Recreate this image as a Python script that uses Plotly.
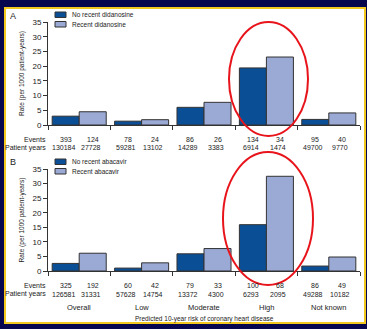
import plotly.graph_objects as go

# Risk groups (predicted 10-year risk of coronary heart disease)
categories = ["Overall", "Low", "Moderate", "High", "Not known"]

# Panel A: didanosine
rate_no_ddi = [3.0, 1.3, 6.0, 19.4, 1.9]
rate_ddi = [4.5, 1.8, 7.7, 23.1, 4.1]
events_no_ddi = ["393", "78", "86", "134", "95"]
events_ddi = ["124", "24", "26", "34", "40"]
py_no_ddi = ["130184", "59281", "14289", "6914", "49700"]
py_ddi = ["27728", "13102", "3383", "1474", "9770"]

# Panel B: abacavir
rate_no_abc = [2.6, 1.0, 5.9, 15.9, 1.7]
rate_abc = [6.1, 2.8, 7.7, 32.5, 4.8]
events_no_abc = ["325", "60", "79", "100", "86"]
events_abc = ["192", "42", "33", "68", "49"]
py_no_abc = ["126581", "57628", "13372", "6293", "49288"]
py_abc = ["31331", "14754", "4300", "2095", "10182"]

series_names_a = ["No recent didanosine", "Recent didanosine"]
series_names_b = ["No recent abacavir", "Recent abacavir"]

DARK = "#0a4f96"
LIGHT = "#9ba9d5"
EDGE = "#333333"
TEXT = "#222222"
FONT = "Liberation Sans, Arial, sans-serif"

W, H = 367, 329
ML, MR, MT, MB = 48, 7, 22, 58
PW = W - ML - MR
PH = H - MT - MB


def X(px):
    return (px - ML) / PW


def Y(py):
    return (H - MB - py) / PH


fig = go.Figure()

for vals, name, col, xa, ya in [
    (rate_no_ddi, series_names_a[0], DARK, "x", "y"),
    (rate_ddi, series_names_a[1], LIGHT, "x", "y"),
    (rate_no_abc, series_names_b[0], DARK, "x2", "y2"),
    (rate_abc, series_names_b[1], LIGHT, "x2", "y2"),
]:
    fig.add_trace(go.Bar(
        x=categories, y=vals, name=name, xaxis=xa, yaxis=ya,
        marker=dict(color=col, line=dict(color=EDGE, width=1)),
        showlegend=False, hoverinfo="skip",
    ))

xcommon = dict(
    type="category", categoryarray=categories, range=[-0.5, 4.5],
    tickson="boundaries", ticks="outside", ticklen=4, tickcolor=EDGE,
    showticklabels=False, showline=True, linecolor=EDGE, linewidth=1,
    showgrid=False, zeroline=False, domain=[0, 1],
)
ycommon = dict(
    range=[0, 35], dtick=5, ticks="outside", ticklen=4, tickcolor=EDGE,
    showline=True, linecolor=EDGE, linewidth=1, showgrid=False,
    zeroline=False, tickfont=dict(family=FONT, size=8, color=TEXT),
    title=dict(text="Rate (per 1000 patient-years)",
               font=dict(family=FONT, size=6.5, color=TEXT), standoff=7),
)

fig.update_layout(
    width=W, height=H,
    margin=dict(l=ML, r=MR, t=MT, b=MB),
    paper_bgcolor="#06064e", plot_bgcolor="white",
    barmode="group", bargap=0.134, bargroupgap=0,
    xaxis=dict(xcommon, anchor="y"),
    yaxis=dict(ycommon, domain=[Y(125), 1], anchor="x"),
    xaxis2=dict(xcommon, anchor="y2"),
    yaxis2=dict(ycommon, domain=[0, Y(169)], anchor="x2"),
    font=dict(family=FONT, color=TEXT),
)

shapes = [
    # white panel with a yellow rule
    dict(type="rect", xref="paper", yref="paper", layer="below",
         x0=X(5), x1=X(365), y0=Y(323), y1=Y(8),
         fillcolor="white", line=dict(color="#f2c81e", width=2)),
    # highlight rings round the high-risk group
    dict(type="circle", xref="paper", yref="paper",
         x0=X(229), x1=X(308), y0=Y(136), y1=Y(22),
         line=dict(color="#e8141b", width=2)),
    dict(type="circle", xref="paper", yref="paper",
         x0=X(223), x1=X(313), y0=Y(285), y1=Y(152),
         line=dict(color="#e8141b", width=2)),
]

annotations = []


def txt(x, y, s, size=7, xanchor="center", xshift=0):
    annotations.append(dict(
        x=x, y=y, xref="paper", yref="paper", text=s, showarrow=False,
        xanchor=xanchor, yanchor="middle", xshift=xshift,
        borderpad=0,
        font=dict(family=FONT, size=size, color=TEXT),
    ))


# manual legends
for names, top in [(series_names_a, 12), (series_names_b, 159)]:
    for i, (nm, col) in enumerate(zip(names, [DARK, LIGHT])):
        y0 = top + i * 9.5
        shapes.append(dict(type="rect", xref="paper", yref="paper",
                           x0=X(55), x1=X(66), y0=Y(y0 + 5.5), y1=Y(y0),
                           fillcolor=col, line=dict(color=EDGE, width=1)))
        txt(X(71), Y(y0 + 2.8), nm, size=6.5, xanchor="left")

# panel letters
txt(X(9), Y(16), "A", size=9, xanchor="left")
txt(X(9), Y(162), "B", size=9, xanchor="left")

off = (1 - 0.134) / 4  # centre offset of each bar within a group


def table(ev0, ev1, py0, py1, yev, ypy):
    txt(X(47), Y(yev), "Events", xanchor="right")
    txt(X(47), Y(ypy), "Patient years", xanchor="right")
    for i in range(len(categories)):
        for j, (ev, pys) in enumerate([(ev0, py0), (ev1, py1)]):
            xc = X(ML + PW * (i + 0.5 + (j * 2 - 1) * off) / len(categories))
            txt(xc, Y(yev), ev[i])
            txt(xc, Y(ypy), pys[i], xshift=-2)


table(events_no_ddi, events_ddi, py_no_ddi, py_ddi, 139, 147.5)
table(events_no_abc, events_abc, py_no_abc, py_abc, 285, 294)

for i, c in enumerate(categories):
    txt(X(ML + PW * (i + 0.5) / len(categories)), Y(307), c, size=7.5)

txt(0.5, Y(319), "Predicted 10-year risk of coronary heart disease", size=6.5)

fig.update_layout(shapes=shapes, annotations=annotations)
fig.write_html("out.html")
